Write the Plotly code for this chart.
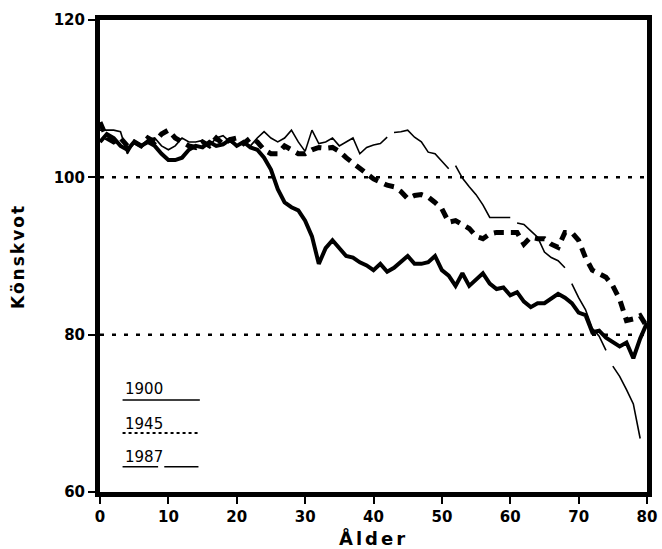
import plotly.graph_objects as go

ages = list(range(0, 81))

y1900 = [104.5, 105.5, 105, 104, 103.5, 104.5, 104, 104.5, 104, 103,
         102.2, 102.2, 102.5, 103.5, 104, 103.8, 104.5, 104, 104.2, 104.8,
         104, 104.5, 103.8, 103.5, 102.5, 101, 98.5, 96.8, 96.2, 95.8,
         94.5, 92.5, 89, 91, 92, 91, 90, 89.8, 89.2, 88.8,
         88.2, 89, 88, 88.5, 89.2, 90, 89, 89, 89.2, 90,
         88.2, 87.5, 86.2, 87.8, 86.2, 87, 87.8, 86.5, 85.8, 86,
         85, 85.4, 84.2, 83.5, 84, 84, 84.6, 85.2, 84.7, 84,
         82.8, 82.5, 80.3, 80.5, 79.6, 79, 78.5, 79, 77, 79.5, 81.5]

y1945 = [107, 105, 104.5, 105, 104, 104.5, 104, 105, 104.5, 105.5,
         106, 105, 104.5, 104, 103.8, 104.5, 104, 105, 104.2, 104.8,
         105, 104.3, 105, 104.5, 103.5, 103, 103, 104, 103.5, 103,
         103, 103.5, 103.8, 103.7, 103.8, 103.3, 102.5, 101.8, 101.2, 100.6,
         99.8, 99.4, 99, 98.8, 98.2, 97.3, 97.7, 97.8, 97.5, 96.8,
         96, 94.3, 94.5, 94, 93.5, 92.5, 92.2, 92.8, 93, 93,
         93, 93, 91.5, 92.4, 92.2, 92.2, 91.5, 91.1, 93, 93,
         92, 89.8, 88.2, 87.8, 87.3, 86.2, 84.5, 81.8, 82, 82.4, 81]

# 1987 series: None marks breaks in the printed line
x1987 = [0, 1, 2, 3, 4, 5, 6, 7, 8, 9, 10, 11, 12, 13, 14, 15, 16, 17, 18, 19,
         20, 21, 22, 23, 24, 25, 26, 27, 28, 29, 30, 31, 32, 33, 34, 35, 36, 37,
         38, 39, 40, 41, 42, None, 43, 44, 45, 46, 47, 48, 49, 50, 51, None,
         52, 53, 54, 55, 56, 57, 58, 59, 60, None, 61, 62, 63, 64, 65, 66, 67,
         68, None, 69, 70, 71, 72, 73, 74, None, 75, 76, 77, 78, 79]
y1987 = [106, 106, 106, 105.8, 103, 104.5, 104, 104.8, 105, 104, 103.5, 104,
         105, 104.5, 104.5, 104.7, 104, 105, 105.3, 104.5,
         104, 104.5, 104, 105, 105.8, 105, 104.5, 105, 106, 104.5, 103.3, 106,
         104.3, 104.5, 105, 104, 104.5, 105,
         103, 103.8, 104.1, 104.3, 105.1, None, 105.7, 105.8, 106, 105.1, 104.5,
         103.2, 103, 102, 101.1, None,
         101.5, 99.9, 98.8, 97.8, 96.5, 94.9, 94.9, 94.9, 94.9, None, 94.2, 94,
         93.2, 92.4, 90.5, 89.8, 89.4,
         88.5, None, 86.5, 84.7, 83.2, 80.8, 79.8, 78.0, None, 76, 74.7, 73, 71.2, 66.8]

yticks = [60, 80, 100, 120]
xticks = [0, 10, 20, 30, 40, 50, 60, 70, 80]
ref_levels = [100, 80]
legend_years = ["1900", "1945", "1987"]

fig = go.Figure()
fig.add_trace(go.Scatter(x=ages, y=y1900, mode="lines", name="1900",
                         line=dict(color="black", width=4)))
fig.add_trace(go.Scatter(x=ages, y=y1945, mode="lines", name="1945",
                         line=dict(color="black", width=5, dash="10px,7px")))
fig.add_trace(go.Scatter(x=x1987, y=y1987, mode="lines", name="1987",
                         line=dict(color="black", width=1.6), connectgaps=False))

for lv in ref_levels:
    fig.add_shape(type="line", x0=0, x1=80, y0=lv, y1=lv, xref="x", yref="y",
                  line=dict(color="black", width=2.5, dash="4px,8px"), layer="below")

# hand-drawn style legend in lower left
leg_text_y = [73.1, 68.7, 64.5]
leg_line_y = [71.7, 67.5, 63.2]
for name, ty in zip(legend_years, leg_text_y):
    fig.add_annotation(x=3.3, y=ty, xref="x", yref="y", text=name, showarrow=False,
                       xanchor="left", yanchor="middle",
                       font=dict(family="DejaVu Sans", size=15, color="black"))
fig.add_shape(type="line", x0=3.3, x1=14.6, y0=leg_line_y[0], y1=leg_line_y[0],
              line=dict(color="black", width=1.5))
fig.add_shape(type="line", x0=3.3, x1=14.6, y0=leg_line_y[1], y1=leg_line_y[1],
              line=dict(color="black", width=2, dash="3px,3px"))
fig.add_shape(type="line", x0=3.3, x1=8.5, y0=leg_line_y[2], y1=leg_line_y[2],
              line=dict(color="black", width=1.5))
fig.add_shape(type="line", x0=9.4, x1=14.4, y0=leg_line_y[2], y1=leg_line_y[2],
              line=dict(color="black", width=1.5))

fig.add_annotation(x=0.5, y=-0.097, xref="paper", yref="paper",
                   text='<span style="letter-spacing:3px">Ålder</span>',
                   showarrow=False, xanchor="center", yanchor="middle",
                   font=dict(family="DejaVu Sans", size=18, color="black", weight="bold"))
fig.add_annotation(x=-0.15, y=0.5, xref="paper", yref="paper",
                   text='<span style="letter-spacing:2px">Könskvot</span>',
                   showarrow=False, textangle=-90, xanchor="center", yanchor="middle",
                   font=dict(family="DejaVu Sans", size=17, color="black", weight="bold"))

axis_common = dict(showline=True, linewidth=5, linecolor="black", mirror=True,
                   showgrid=False, zeroline=False, ticks="outside", ticklen=7,
                   tickwidth=2, tickcolor="black", automargin=False,
                   tickfont=dict(family="DejaVu Sans", size=15, color="black", weight="bold"))
fig.update_xaxes(range=[0, 80], tickvals=xticks, **axis_common)
fig.update_yaxes(range=[60, 120], tickvals=yticks, **axis_common)

fig.update_layout(width=662, height=549, showlegend=False,
                  plot_bgcolor="white", paper_bgcolor="white",
                  margin=dict(l=100, r=15, t=20, b=57))

fig.write_html("out.html",
               config={"displayModeBar": False, "responsive": False},
               post_script="document.body.style.margin='0';document.body.style.overflow='hidden';")
